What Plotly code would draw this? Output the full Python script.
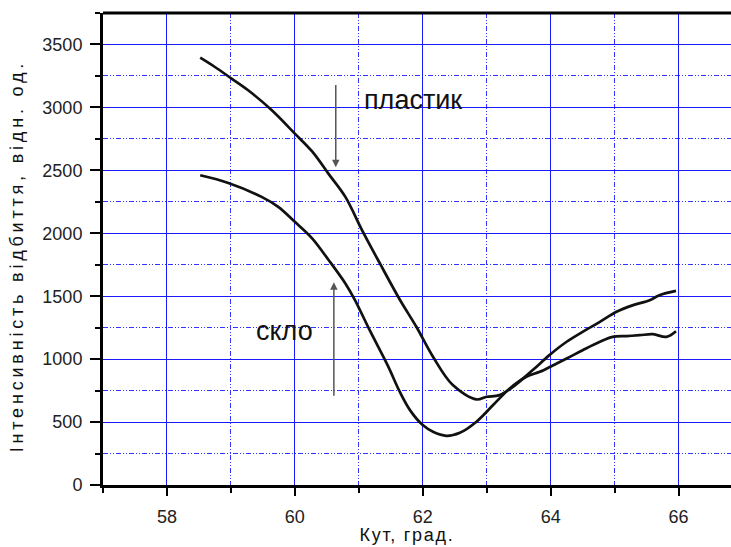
import plotly.graph_objects as go

# Angle (degrees) and reflected intensity (arb. units)
plastic_angle = [58.52, 58.75, 59.01, 59.27, 59.64, 60.00, 60.27, 60.53, 60.79, 61.05,
                 61.33, 61.64, 61.90, 62.16, 62.47, 62.84, 63.00, 63.20, 63.41, 63.72,
                 63.98, 64.25, 64.50, 64.77, 65.03, 65.29, 65.55, 65.70, 65.96]
plastic_int = [3395, 3321, 3229, 3136, 2977, 2792, 2650, 2470, 2289, 2025,
               1760, 1474, 1257, 1019, 794, 680, 701, 714, 780, 913,
               1032, 1138, 1217, 1296, 1376, 1429, 1468, 1508, 1542]

glass_angle = [58.52, 58.96, 59.48, 59.74, 60.00, 60.27, 60.53, 60.79, 60.94, 61.17,
               61.45, 61.64, 61.80, 62.00, 62.16, 62.37, 62.58, 62.84, 63.10, 63.36,
               63.62, 63.83, 64.04, 64.25, 64.50, 64.77, 64.97, 65.18, 65.39, 65.60,
               65.81, 65.96]
glass_int = [2461, 2400, 2289, 2210, 2091, 1960, 1786, 1601, 1469, 1230,
             952, 741, 595, 476, 423, 391, 415, 503, 635, 767,
             860, 899, 952, 1005, 1071, 1138, 1177, 1183, 1190, 1198,
             1177, 1222]

x_ticks = [58, 60, 62, 64, 66]
y_ticks = [0, 500, 1000, 1500, 2000, 2500, 3000, 3500]

x_title = "Кут, град."
y_title = "Інтенсивність відбиття, відн. од."
label_plastic = "пластик"
label_glass = "скло"

fig = go.Figure()
fig.add_trace(go.Scatter(x=plastic_angle, y=plastic_int, mode="lines",
                         line=dict(color="#111111", width=2.7, shape="spline", smoothing=1.0),
                         name=label_plastic, showlegend=False))
fig.add_trace(go.Scatter(x=glass_angle, y=glass_int, mode="lines",
                         line=dict(color="#111111", width=2.7, shape="spline", smoothing=1.0),
                         name=label_glass, showlegend=False))

minor_dash = "5px,2px,1px,2px,1px,2px"
tickfont = dict(family="Liberation Sans, Arial, sans-serif", size=18, color="#222222")

fig.update_xaxes(range=[57, 66.82], tickvals=x_ticks, ticktext=[str(v) for v in x_ticks],
                 showline=True, linecolor="black", linewidth=3,
                 ticks="outside", ticklen=8, tickwidth=2, tickcolor="black",
                 showgrid=True, gridcolor="#1a1aff", gridwidth=1,
                 minor=dict(dtick=1, tick0=57, ticks="outside", ticklen=5, tickwidth=2,
                            tickcolor="black", showgrid=True, gridcolor="#3333ff",
                            griddash=minor_dash, gridwidth=1),
                 zeroline=False, tickfont=tickfont, ticklabelstandoff=5, automargin=False)
fig.update_yaxes(range=[0, 3750], tickvals=y_ticks, ticktext=[str(v) for v in y_ticks],
                 showline=True, linecolor="black", linewidth=3,
                 ticks="outside", ticklen=10, tickwidth=2, tickcolor="black",
                 showgrid=True, gridcolor="#1a1aff", gridwidth=1,
                 minor=dict(dtick=250, tick0=0, ticks="outside", ticklen=5, tickwidth=2,
                            tickcolor="black", showgrid=True, gridcolor="#3333ff",
                            griddash=minor_dash, gridwidth=1),
                 zeroline=False, tickfont=tickfont, ticklabelstandoff=4, automargin=False)

# top frame line
fig.add_shape(type="line", xref="paper", yref="paper", x0=0, x1=1, y0=1, y1=1,
              line=dict(color="black", width=3))

# arrows
fig.add_annotation(x=60.64, y=2524, ax=60.64, ay=3190, xref="x", yref="y",
                   axref="x", ayref="y", text="", showarrow=True, arrowhead=2,
                   arrowsize=1, arrowwidth=1.5, arrowcolor="#555555", standoff=0)
fig.add_annotation(x=60.61, y=1611, ax=60.61, ay=698, xref="x", yref="y",
                   axref="x", ayref="y", text="", showarrow=True, arrowhead=2,
                   arrowsize=1, arrowwidth=1.5, arrowcolor="#555555", standoff=0)

labfont = dict(family="Liberation Sans, Arial, sans-serif", size=27, color="#111111")
fig.add_annotation(x=61.05, y=3056, text=label_plastic, showarrow=False,
                   xanchor="left", yanchor="middle", font=labfont)
fig.add_annotation(x=59.36, y=1222, text=label_glass, showarrow=False,
                   xanchor="left", yanchor="middle", font=labfont)

titlefont = dict(family="Liberation Sans, Arial, sans-serif", size=18, color="#111111")
fig.add_annotation(x=0.484, y=-0.106, xref="paper", yref="paper", text=x_title,
                   showarrow=False, xanchor="center", yanchor="middle", font=titlefont)
fig.add_annotation(x=-0.137, y=0.486, xref="paper", yref="paper", text=y_title,
                   showarrow=False, xanchor="center", yanchor="middle", textangle=-90,
                   font=titlefont)

fig.update_layout(width=731, height=547, margin=dict(l=103, r=0, t=13, b=62),
                  plot_bgcolor="white", paper_bgcolor="white", showlegend=False)

post = """
document.body.style.margin = '0';
document.body.style.padding = '0';
document.documentElement.style.overflow = 'hidden';
document.querySelectorAll('text.annotation-text').forEach(function (e) {
  var t = e.textContent;
  if (t.indexOf('Інтенсивність') === 0) { e.style.letterSpacing = '3.8px'; }
  if (t.indexOf('Кут') === 0) { e.style.letterSpacing = '1.7px'; }
});
"""

fig.write_html("out.html", post_script=post, config={"displayModeBar": False})
